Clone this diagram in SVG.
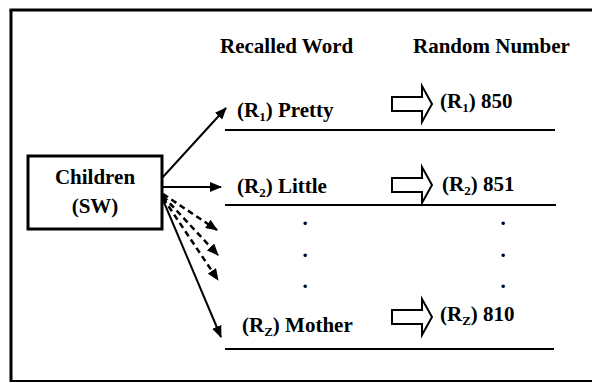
<svg xmlns="http://www.w3.org/2000/svg" width="592" height="383" viewBox="0 0 592 383">
<defs>
<style>
.ln{stroke:#000;stroke-width:2;fill:none}
.fr{stroke:#000;fill:none}
.cn{stroke:#000;stroke-width:2;fill:none;marker-end:url(#ah)}
.ds{stroke-dasharray:6 4;stroke-width:2.5}
.ha{fill:#fff;stroke:#000;stroke-width:2;stroke-linejoin:miter}
.sub{font-size:13px}
</style>
<marker id="ah" viewBox="0 0 12 10" refX="11" refY="5" markerWidth="12" markerHeight="10" markerUnits="userSpaceOnUse" orient="auto">
<path d="M0,0 L12,5 L0,10 Z" fill="#000"/>
</marker>
<path id="hollow" d="M0,-7 H30 V-18 L40,0 L30,18 V7 H0 Z"/>
</defs>
<g id="frame">
<line class="fr" stroke-width="3" x1="9.5" y1="10" x2="592" y2="10"/>
<line class="fr" stroke-width="3" x1="11" y1="10" x2="11" y2="382"/>
<line class="fr" stroke-width="2" x1="10" y1="381" x2="592" y2="381"/>
</g>
<g font-family="Liberation Serif, Times New Roman, serif" font-weight="bold" font-size="21" fill="#000">
<g id="headers">
<text x="220" y="53">Recalled Word</text>
<text x="413" y="53">Random Number</text>
</g>
<g id="children">
<rect x="28" y="156" width="134" height="73" fill="#fff" stroke="#000" stroke-width="3"/>
<text x="95" y="184" text-anchor="middle">Children</text>
<text x="95" y="213" text-anchor="middle">(SW)</text>
</g>
<g id="row1">
<text x="237" y="117">(R<tspan class="sub" dy="4">1</tspan><tspan dy="-4">) Pretty</tspan></text>
<line class="ln" x1="225" y1="130" x2="555" y2="130"/>
<use href="#hollow" class="ha" x="392" y="104"/>
<text x="440" y="108">(R<tspan class="sub" dy="4">1</tspan><tspan dy="-4">) 850</tspan></text>
</g>
<g id="row2">
<text x="237" y="193">(R<tspan class="sub" dy="4">2</tspan><tspan dy="-4">) Little</tspan></text>
<line class="ln" x1="225" y1="205" x2="556" y2="205"/>
<use href="#hollow" class="ha" x="392" y="185"/>
<text x="442" y="191">(R<tspan class="sub" dy="4">2</tspan><tspan dy="-4">) 851</tspan></text>
</g>
<g id="dots">
<text x="305" y="225" text-anchor="middle">.</text>
<text x="305" y="257" text-anchor="middle">.</text>
<text x="305" y="288" text-anchor="middle">.</text>
<text x="503" y="225" text-anchor="middle">.</text>
<text x="503" y="257" text-anchor="middle">.</text>
<text x="503" y="288" text-anchor="middle">.</text>
</g>
<g id="rowZ">
<text x="242" y="332">(R<tspan class="sub" dy="4">Z</tspan><tspan dy="-4">) Mother</tspan></text>
<line class="ln" x1="225" y1="349" x2="554" y2="349"/>
<use href="#hollow" class="ha" x="392" y="317"/>
<text x="440" y="321">(R<tspan class="sub" dy="4">Z</tspan><tspan dy="-4">) 810</tspan></text>
</g>
</g>
<g id="connectors">
<line class="cn" x1="162" y1="178" x2="226" y2="108"/>
<line class="cn" x1="162" y1="187" x2="221" y2="187"/>
<line class="cn ds" x1="163" y1="194" x2="217" y2="230"/>
<line class="cn ds" x1="163" y1="196" x2="218" y2="255"/>
<line class="cn ds" x1="163" y1="198" x2="218" y2="280"/>
<line class="cn" x1="163" y1="200" x2="221" y2="337"/>
</g>
</svg>
